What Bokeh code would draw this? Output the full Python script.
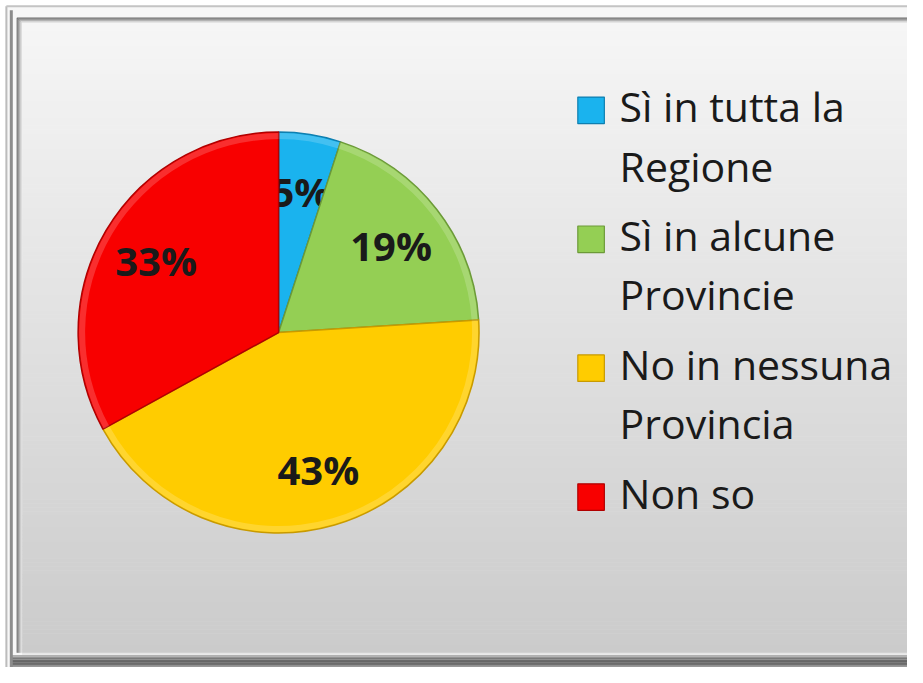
import math
from bokeh.plotting import figure
from bokeh.models import Range1d
from bokeh.core.properties import value
from bokeh.embed import file_html
from bokeh.resources import INLINE

# ---- data ----
categories = ["Sì in tutta la Regione", "Sì in alcune Provincie",
              "No in nessuna Provincia", "Non so"]
legend_lines = [["Sì in tutta la", "Regione"],
                ["Sì in alcune", "Provincie"],
                ["No in nessuna", "Provincia"],
                ["Non so"]]
shares = [5, 19, 43, 33]
slice_colors = ["#1AB3EE", "#94CF54", "#FFCC00", "#F80000"]
edge_colors = ["#0E7FB0", "#6C9A38", "#C89A00", "#B00000"]

# ---- layout: reference-image coordinates mapped onto the figure ----
W, H = 907, 667
RW, RH = 923.0, 683.0
SX, SY = W / RW, H / RH


def X(rx):
    return rx * SX


def Y(ry):
    return H - ry * SY


p = figure(width=W, height=H, output_backend="svg", toolbar_location=None,
           x_axis_type=None, y_axis_type=None, min_border=0,
           x_range=Range1d(0, W), y_range=Range1d(0, H))
p.outline_line_color = None
p.grid.visible = False
p.background_fill_color = "#ffffff"
p.border_fill_color = "#ffffff"


def mix(c1, c2, t):
    return "#%02x%02x%02x" % tuple(int(round(a + (b - a) * t)) for a, b in zip(c1, c2))


# outer frame band
p.quad(left=X(5), right=X(923), top=Y(5), bottom=Y(683),
       fill_color="#f7f7f7", line_color=None)
p.line(x=[X(6), X(6)], y=[Y(683), Y(6)], line_color="#bcbcbc", line_width=2)
p.line(x=[X(6), X(923)], y=[Y(6), Y(6)], line_color="#c4c4c4", line_width=2)

# inner panel with vertical gradient
top_c, bot_c = (246, 246, 246), (203, 203, 203)
px0, px1, py0, py1 = 22, 923, 23, 668
n = 160
for i in range(n):
    t0 = i / n
    t1 = (i + 1) / n
    p.quad(left=X(px0), right=X(px1),
           top=Y(py0 + (py1 - py0) * t0), bottom=Y(py0 + (py1 - py0) * t1) - 0.5,
           fill_color=mix(top_c, bot_c, (t0 + t1) / 2), line_color=None)

# bevel shadows of the frame
for k, c in enumerate(["#6e6e6e", "#808080", "#9a9a9a", "#b8b8b8", "#d4d4d4"]):
    p.line(x=[X(17 + k), X(17 + k), X(923)], y=[Y(py1), Y(18 + k), Y(18 + k)],
           line_color=c, line_width=1.2)
p.line(x=[X(px0), X(923)], y=[Y(py1 + 1), Y(py1 + 1)], line_color="#e6e6e6", line_width=2)
for k, c in enumerate(["#b0b0b0", "#939393", "#7a7a7a", "#6c6c6c", "#666666",
                       "#6a6a6a", "#707070", "#7a7a7a"]):
    p.line(x=[X(10), X(923)], y=[Y(671 + k * 1.5), Y(671 + k * 1.5)],
           line_color=c, line_width=1.6)
p.line(x=[X(11), X(11)], y=[Y(683), Y(10)], line_color="#8c8c8c", line_width=3)

# ---- pie ----
cx, cy = X(283), Y(340)
R = 204 * SX
total = float(sum(shares))
starts, ends, mids = [], [], []
acc = 0.0
for v in shares:
    a0 = math.pi / 2 - 2 * math.pi * acc / total
    acc += v
    a1 = math.pi / 2 - 2 * math.pi * acc / total
    starts.append(a0)
    ends.append(a1)
    mids.append((a0 + a1) / 2)

lab_r = 0.71 * R
labels = ["%d%%" % v for v in shares]
for i in range(len(shares)):
    p.wedge(x=cx, y=cy, radius=R, start_angle=starts[i], end_angle=ends[i],
            direction="clock", fill_color=slice_colors[i], line_color=edge_colors[i],
            line_width=1.5)
    p.annular_wedge(x=cx, y=cy, inner_radius=R - 7, outer_radius=R - 1,
                    start_angle=starts[i], end_angle=ends[i], direction="clock",
                    fill_color="#ffffff", fill_alpha=0.18, line_color=None)
    p.text(x=[cx + lab_r * math.cos(mids[i])], y=[cy + lab_r * math.sin(mids[i])],
           text=[labels[i]], text_align="center", text_baseline="middle",
           text_font=value("Open Sans"), text_font_style="bold",
           text_font_size="40px", text_color="#1a1a1a")

# ---- legend ----
first_base = 127
entry_step = 132
line_step = 61
sq = 27
tx, sqx = 630, 601
rx, ry, rc, rl = [], [], [], []
tx_l, ty_l, tt = [], [], []
for i, lines in enumerate(legend_lines):
    base = first_base + entry_step * i
    rx.append(X(sqx))
    ry.append(Y(base - 1 - sq / 2))
    rc.append(slice_colors[i])
    rl.append(edge_colors[i])
    for j, s in enumerate(lines):
        tx_l.append(X(tx))
        ty_l.append(Y(base + line_step * j - 19))
        tt.append(s)
p.rect(x=rx, y=ry, width=sq * SX, height=sq * SX, fill_color=rc, line_color=rl,
       line_width=1.2)
p.text(x=tx_l, y=ty_l, text=tt, text_align="left", text_baseline="middle",
       text_font=value("Open Sans"), text_font_size="41px", text_color="#1a1a1a")

open("out.html", "w").write(file_html(p, INLINE))
